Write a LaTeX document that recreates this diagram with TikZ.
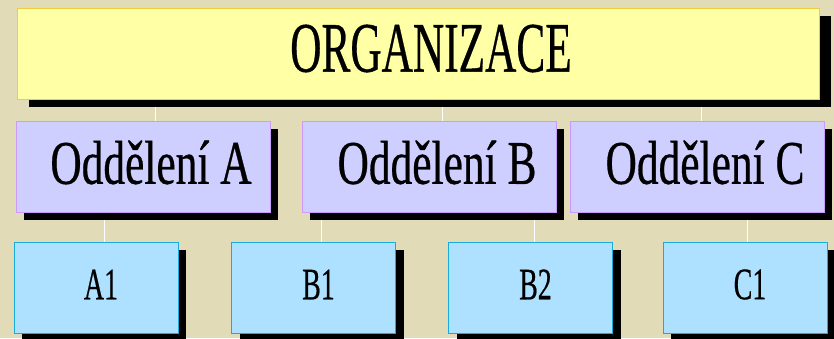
\documentclass[tikz,border=0pt]{standalone}
\usepackage{fontspec}
\setmainfont{Liberation Serif}
\usetikzlibrary{shadows}
\definecolor{parchment}{RGB}{226,219,183}
\definecolor{orgfill}{RGB}{255,255,166}
\definecolor{orgline}{RGB}{240,204,64}
\definecolor{deptfill}{RGB}{206,206,255}
\definecolor{deptline}{RGB}{204,153,255}
\definecolor{unitfill}{RGB}{174,224,255}
\definecolor{unitline}{RGB}{24,172,222}
\newcommand{\narrow}[2]{\scalebox{#1}[1]{#2}}
\newcommand{\boxfont}[1]{\fontsize{#1}{#1}\selectfont\addfontfeature{FakeBold=0.6}}
\pgfdeclarelayer{paper}
\pgfdeclarelayer{links}
\pgfsetlayers{paper,links,main}

\begin{document}
\begin{tikzpicture}[x=1pt,y=-1pt,
    box/.style={line width=1pt, inner sep=0pt, minimum height=91pt},
    orgbox/.style={box, draw=orgline, fill=orgfill, minimum width=802pt,
        drop shadow={shadow xshift=12pt, shadow yshift=-8pt, fill=black, opacity=1},
        label={[xshift=13pt, yshift=5pt, font=\boxfont{71}]center:\narrow{0.61}{#1}}},
    deptbox/.style={box, draw=deptline, fill=deptfill, minimum width=254pt,
        drop shadow={shadow xshift=8pt, shadow yshift=-8pt, fill=black, opacity=1},
        label={[xshift=8pt, yshift=4pt, font=\boxfont{62}]center:\narrow{0.70}{#1}}},
    unitbox/.style={box, draw=unitline, fill=unitfill, minimum width=164pt,
        drop shadow={shadow xshift=8pt, shadow yshift=-8pt, fill=black, opacity=1},
        label={[xshift=5pt, yshift=3pt, font=\boxfont{45}]center:\narrow{0.62}{#1}}},
    link/.style={white, line width=1pt}]
    \useasboundingbox (0,0) rectangle (834,338);
    \begin{pgfonlayer}{paper}
        \fill[parchment] (0,0) rectangle (834,338);
    \end{pgfonlayer}
    \node[orgbox=ORGANIZACE] (org) at (418,53.5) {};
    \node[deptbox=Oddělení A] (oddA) at (143,166.5) {};
    \node[deptbox=Oddělení B] (oddB) at (429,166.5) {};
    \node[deptbox=Oddělení C] (oddC) at (697,166.5) {};
    \node[unitbox=A1] (a1) at (96,287.5) {};
    \node[unitbox=B1] (b1) at (313.5,287.5) {};
    \node[unitbox=B2] (b2) at (530.5,287.5) {};
    \node[unitbox=C1] (c1) at (745,287.5) {};
    \begin{pgfonlayer}{links}
        \draw[link] ([xshift=12pt]oddA.north) -- ([xshift=12pt]oddA.north |- org.south);
        \draw[link] ([xshift=13pt]oddB.north) -- ([xshift=13pt]oddB.north |- org.south);
        \draw[link] ([xshift=4pt]oddC.north) -- ([xshift=4pt]oddC.north |- org.south);
        \draw[link] ([xshift=8pt]a1.north) -- ([xshift=8pt]a1.north |- oddA.south);
        \draw[link] ([xshift=8pt]b1.north) -- ([xshift=8pt]b1.north |- oddB.south);
        \draw[link] ([xshift=4pt]b2.north) -- ([xshift=4pt]b2.north |- oddB.south);
        \draw[link] ([xshift=2pt]c1.north) -- ([xshift=2pt]c1.north |- oddC.south);
    \end{pgfonlayer}
\end{tikzpicture}
\end{document}
